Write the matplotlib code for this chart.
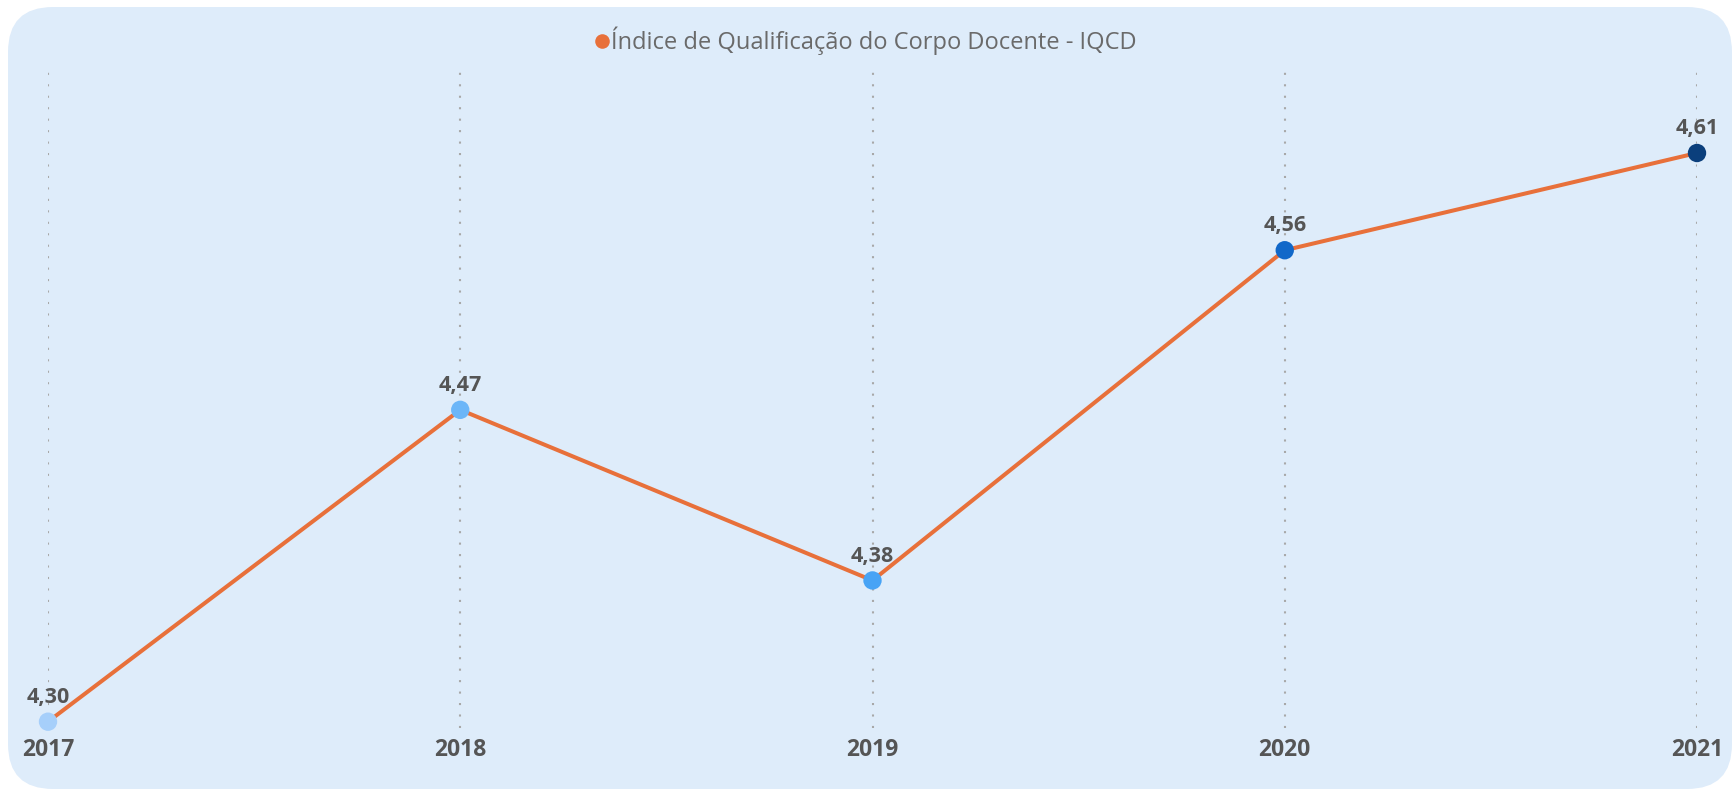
import matplotlib.pyplot as plt
from matplotlib.patches import FancyBboxPatch

# Data
years = ["2017", "2018", "2019", "2020", "2021"]
iqcd = [4.30, 4.470, 4.377, 4.557, 4.61]
point_colors = ["#a6cffa", "#6cb6f8", "#47a3f5", "#1168c9", "#0b3f7c"]
legend_label = "Índice de Qualificação do Corpo Docente - IQCD"

W, H = 1732, 789
fig = plt.figure(figsize=(W / 100, H / 100), dpi=100)
fig.patch.set_facecolor("white")

# background axes in pixel units for the rounded panel
bg = fig.add_axes([0, 0, 1, 1], zorder=-1)
bg.set_xlim(0, W)
bg.set_ylim(H, 0)
bg.axis("off")
bg.add_patch(FancyBboxPatch((8, 7), W - 8, H - 7,
                            boxstyle="round,pad=0,rounding_size=45",
                            facecolor="#deecfa", edgecolor="none"))

# main axes placement (pixels -> figure fraction)
x0, x1 = 48, 1697
y_top, y_bot = 72, 728
ax = fig.add_axes([x0 / W, 1 - y_bot / H, (x1 - x0) / W, (y_bot - y_top) / H], zorder=1)
ax.set_facecolor("none")

px_per_unit = (721.7 - 153) / (4.61 - 4.30)
ax.set_xlim(0, len(years) - 1)
ax.set_ylim(4.30 - (y_bot - 721.7) / px_per_unit, 4.61 + (153 - y_top) / px_per_unit)

xs = list(range(len(years)))
ax.plot(xs, iqcd, color="#e8703a", lw=2.9, zorder=3, solid_capstyle="round")
ax.scatter(xs, iqcd, s=175, c=point_colors, zorder=4, clip_on=False, linewidths=0)

for x, v in zip(xs, iqcd):
    ax.annotate(f"{v:.2f}".replace(".", ","), (x, v), xytext=(0, 10),
                textcoords="offset points", ha="center", va="bottom",
                fontsize=15.5, fontweight="bold", color="#555555",
                family="Open Sans", zorder=5)

ax.set_xticks(xs)
ax.set_xticklabels(years, fontsize=16.5, fontweight="bold", color="#555555", family="Open Sans")
ax.tick_params(axis="x", length=0, pad=7)
ax.set_yticks([])
ax.grid(axis="x", color="#a8a8a8", linestyle=(0, (1, 4.5)), linewidth=1.5)
for s in ax.spines.values():
    s.set_visible(False)

# legend as text with a dot
bg.text(611, 41, legend_label, ha="left", va="center",
        fontsize=17, color="#6a6a6a", family="Open Sans")
bg.scatter([602], [41], s=110, color="#e8703a", linewidths=0)

fig.savefig("out.png", dpi=100)
